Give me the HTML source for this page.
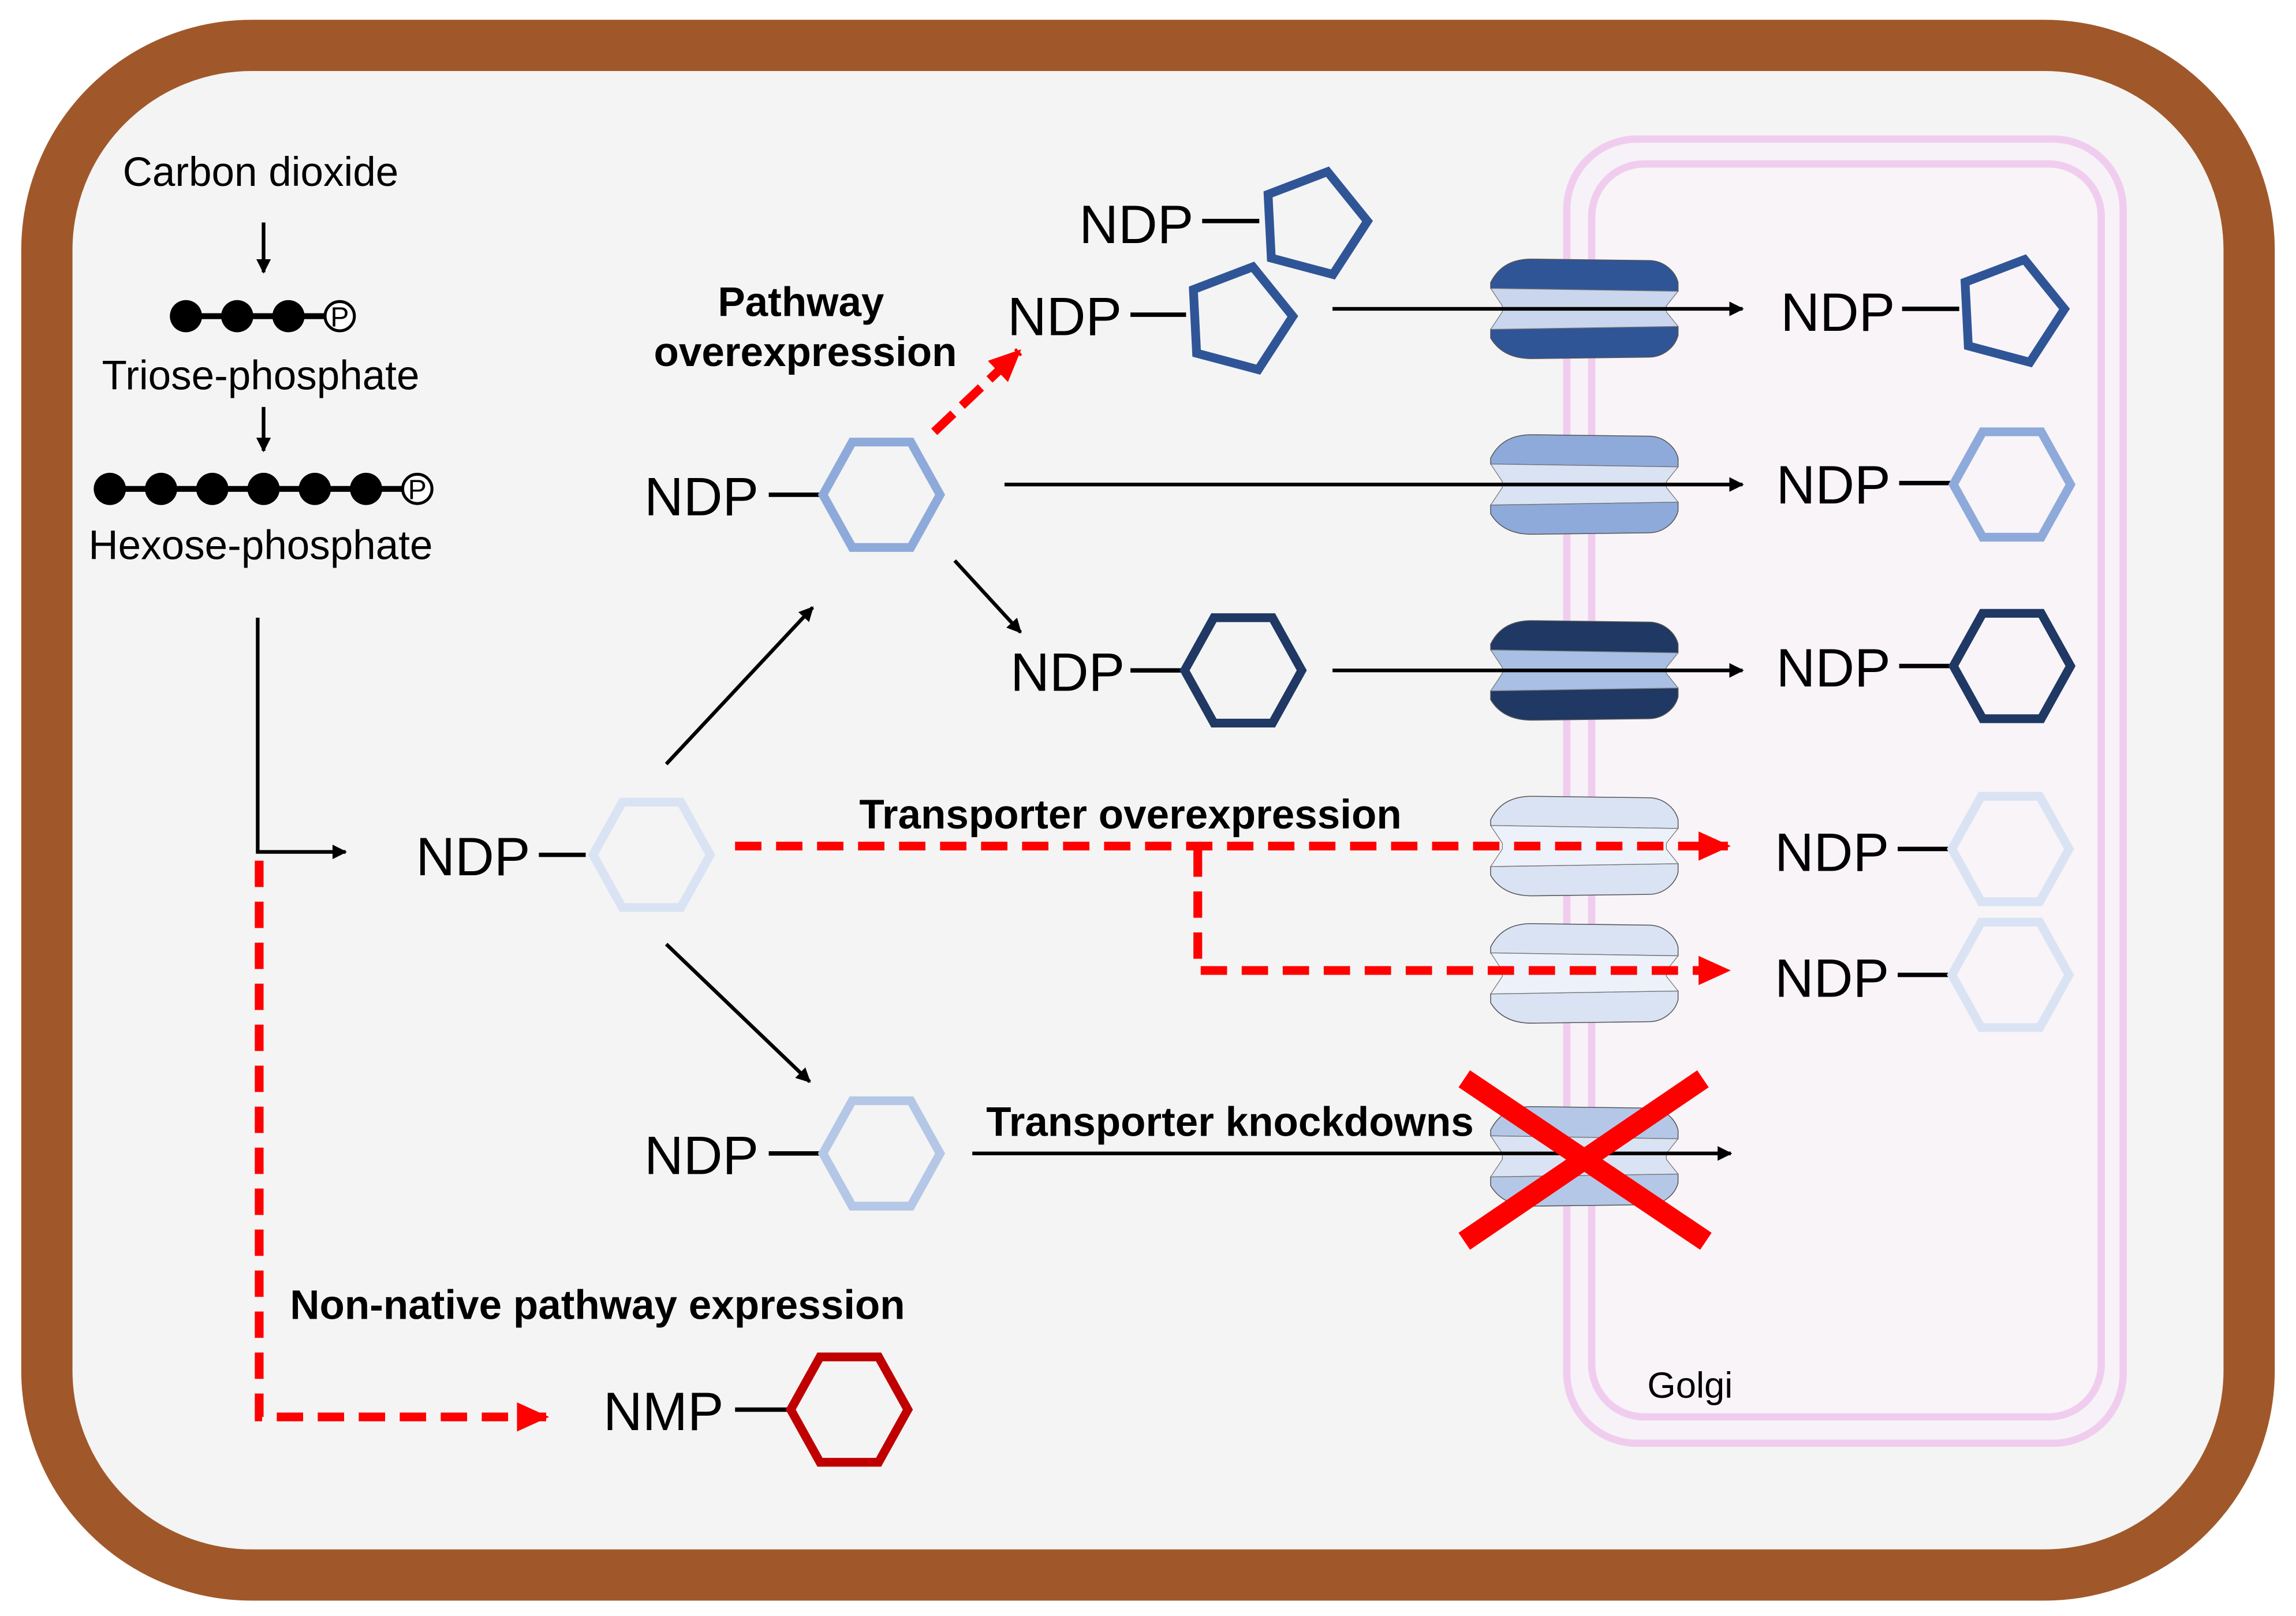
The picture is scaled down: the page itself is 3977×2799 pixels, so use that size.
<!DOCTYPE html>
<html><head><meta charset="utf-8"><style>
html,body{margin:0;padding:0;background:#fff;}
svg{display:block;}
text{font-family:"Liberation Sans",Arial,sans-serif;}
</style></head><body>
<svg width="3977" height="2799" viewBox="0 0 1568 1104" preserveAspectRatio="none" xmlns="http://www.w3.org/2000/svg">
<defs>
<path id="hex" d="M-40,0 L-20,-36 L20,-36 L40,0 L20,36 L-20,36Z"/>
<path id="pent" d="M9.6,-35.7 L36.9,-1.9 L13.3,34.5 L-28.8,23.3 L-31,-20.2Z"/>
<marker id="ab" markerWidth="10" markerHeight="10" refX="9" refY="5" orient="auto" markerUnits="userSpaceOnUse"><path d="M0,0 L10,5 L0,10Z" fill="#000"/></marker>
<marker id="ar" markerWidth="22" markerHeight="20" refX="20" refY="10" orient="auto" markerUnits="userSpaceOnUse"><path d="M0,0 L22,10 L0,20Z" fill="#f00"/></marker>
<g id="tr">
<path d="M-64,-18 C-58,-30 -48,-34 -36,-34 L44,-33 C54,-33 62,-26 64,-18 L64,-12 L-64,-14Z" fill="var(--c)" stroke="#555" stroke-width="0.6"/>
<path d="M-64,14 L64,12 L64,18 C62,26 54,33 44,33 L-36,34 C-48,34 -58,30 -64,20Z" fill="var(--c)" stroke="#555" stroke-width="0.6"/>
<path d="M-64,-14 L64,-12 L56,-2 L56,2 L64,12 L-64,14 L-56,2 L-56,-2Z" fill="var(--m)" stroke="#777" stroke-width="0.5"/>
</g>
</defs>
<rect x="0" y="0" width="1568" height="1104" fill="#fff"/>
<rect x="32" y="31" width="1504" height="1045" rx="140" fill="#f4f4f4" stroke="#a0582a" stroke-width="35"/>
<!-- Golgi -->
<rect x="1070" y="95" width="380" height="891" rx="48" fill="#f7f2f7" stroke="#f0cdef" stroke-width="5"/>
<rect x="1087" y="112" width="348" height="856" rx="36" fill="#f8f4f8" stroke="#f0cdef" stroke-width="5"/>
<text x="1125" y="955" font-size="25">Golgi</text>

<!-- left pathway -->
<text x="178" y="127" font-size="28" text-anchor="middle">Carbon dioxide</text>
<line x1="180" y1="152" x2="180" y2="186" stroke="#000" stroke-width="2.5" marker-end="url(#ab)"/>
<g fill="#000">
<line x1="127" y1="216" x2="225" y2="216" stroke="#000" stroke-width="4"/>
<circle cx="127" cy="216" r="11"/><circle cx="162" cy="216" r="11"/><circle cx="197" cy="216" r="11"/>
<circle cx="232" cy="216" r="10" fill="#fff" stroke="#000" stroke-width="2"/>
<text x="232" y="223" font-size="19" text-anchor="middle">P</text>
</g>
<text x="178" y="266" font-size="28" text-anchor="middle">Triose-phosphate</text>
<line x1="180" y1="278" x2="180" y2="308" stroke="#000" stroke-width="2.5" marker-end="url(#ab)"/>
<g fill="#000">
<line x1="75" y1="334" x2="278" y2="334" stroke="#000" stroke-width="4"/>
<circle cx="75" cy="334" r="11"/><circle cx="110" cy="334" r="11"/><circle cx="145" cy="334" r="11"/>
<circle cx="180" cy="334" r="11"/><circle cx="215" cy="334" r="11"/><circle cx="250" cy="334" r="11"/>
<circle cx="285" cy="334" r="10" fill="#fff" stroke="#000" stroke-width="2"/>
<text x="285" y="341" font-size="19" text-anchor="middle">P</text>
</g>
<text x="178" y="382" font-size="28" text-anchor="middle">Hexose-phosphate</text>

<polyline points="176,422 176,582 236,582" fill="none" stroke="#000" stroke-width="2.5" marker-end="url(#ab)"/>
<polyline points="177,588 177,968 373,968" fill="none" stroke="#f00" stroke-width="6" stroke-dasharray="18,10" marker-end="url(#ar)"/>

<!-- central NDP -->
<text x="284" y="598" font-size="37">NDP</text>
<line x1="368" y1="584" x2="400" y2="584" stroke="#000" stroke-width="3"/>
<use href="#hex" transform="translate(445,584)" fill="none" stroke="#dae3f3" stroke-width="6"/>
<line x1="455" y1="522" x2="555" y2="415" stroke="#000" stroke-width="2.5" marker-end="url(#ab)"/>
<line x1="455" y1="645" x2="553" y2="739" stroke="#000" stroke-width="2.5" marker-end="url(#ab)"/>

<!-- upper branch -->
<text x="440" y="352" font-size="37">NDP</text>
<line x1="525" y1="338" x2="561" y2="338" stroke="#000" stroke-width="3"/>
<use href="#hex" transform="translate(602,338)" fill="none" stroke="#8eaadb" stroke-width="6"/>
<text x="547" y="216" font-size="28" font-weight="bold" text-anchor="middle">Pathway</text>
<text x="550" y="250" font-size="28" font-weight="bold" text-anchor="middle">overexpression</text>
<line x1="638" y1="295" x2="696" y2="240" stroke="#f00" stroke-width="6" stroke-dasharray="18,8" marker-end="url(#ar)"/>
<line x1="652" y1="383" x2="697" y2="432" stroke="#000" stroke-width="2.5" marker-end="url(#ab)"/>

<text x="737" y="166" font-size="37">NDP</text>
<line x1="821" y1="151" x2="860" y2="151" stroke="#000" stroke-width="3"/>
<use href="#pent" transform="translate(897,153)" fill="none" stroke="#2f5597" stroke-width="6"/>
<text x="688" y="229" font-size="37">NDP</text>
<line x1="772" y1="215" x2="810" y2="215" stroke="#000" stroke-width="3"/>
<use href="#pent" transform="translate(846,218)" fill="none" stroke="#2f5597" stroke-width="6"/>

<text x="690" y="472" font-size="37">NDP</text>
<line x1="772" y1="458" x2="808" y2="458" stroke="#000" stroke-width="3"/>
<use href="#hex" transform="translate(849,458)" fill="none" stroke="#1f3864" stroke-width="6"/>

<!-- lower branch -->
<text x="440" y="802" font-size="37">NDP</text>
<line x1="525" y1="788" x2="561" y2="788" stroke="#000" stroke-width="3"/>
<use href="#hex" transform="translate(602,788)" fill="none" stroke="#b4c7e7" stroke-width="6"/>

<!-- NMP -->
<text x="198" y="901" font-size="28" font-weight="bold">Non-native pathway expression</text>
<text x="412" y="977" font-size="37">NMP</text>
<line x1="502" y1="963" x2="540" y2="963" stroke="#000" stroke-width="3"/>
<use href="#hex" transform="translate(580,963)" fill="none" stroke="#c00000" stroke-width="6"/>

<!-- transporters -->
<use href="#tr" transform="translate(1082,211)" style="--c:#2f5597;--m:#c9d6ee"/>
<use href="#tr" transform="translate(1082,331)" style="--c:#8eaadb;--m:#dae3f3"/>
<use href="#tr" transform="translate(1082,458)" style="--c:#1f3864;--m:#a9bfe3"/>
<use href="#tr" transform="translate(1082,578)" style="--c:#dae3f3;--m:#edf1f9"/>
<use href="#tr" transform="translate(1082,665)" style="--c:#dae3f3;--m:#edf1f9"/>
<use href="#tr" transform="translate(1082,790)" style="--c:#b4c7e7;--m:#dae3f3"/>

<!-- arrows through transporters -->
<line x1="910" y1="211" x2="1190" y2="211" stroke="#000" stroke-width="2.5" marker-end="url(#ab)"/>
<line x1="686" y1="331" x2="1190" y2="331" stroke="#000" stroke-width="2.5" marker-end="url(#ab)"/>
<line x1="910" y1="458" x2="1190" y2="458" stroke="#000" stroke-width="2.5" marker-end="url(#ab)"/>
<text x="772" y="566" font-size="28" font-weight="bold" text-anchor="middle">Transporter overexpression</text>
<line x1="502" y1="578" x2="1180" y2="578" stroke="#f00" stroke-width="6" stroke-dasharray="18,10" marker-end="url(#ar)"/>
<polyline points="818,581 818,663 1180,663" fill="none" stroke="#f00" stroke-width="6" stroke-dasharray="18,10" marker-end="url(#ar)"/>
<text x="840" y="776" font-size="28" font-weight="bold" text-anchor="middle">Transporter knockdowns</text>
<line x1="664" y1="788" x2="1182" y2="788" stroke="#000" stroke-width="2.5" marker-end="url(#ab)"/>
<line x1="1000" y1="737" x2="1165" y2="848" stroke="#f00" stroke-width="14"/>
<line x1="1163" y1="737" x2="1000" y2="848" stroke="#f00" stroke-width="14"/>

<!-- right products -->
<text x="1216" y="226" font-size="37">NDP</text>
<line x1="1299" y1="211" x2="1338" y2="211" stroke="#000" stroke-width="3"/>
<use href="#pent" transform="translate(1373,213)" fill="none" stroke="#2f5597" stroke-width="6"/>
<text x="1213" y="344" font-size="37">NDP</text>
<line x1="1297" y1="330" x2="1333" y2="330" stroke="#000" stroke-width="3"/>
<use href="#hex" transform="translate(1374,331)" fill="none" stroke="#8eaadb" stroke-width="6"/>
<text x="1213" y="469" font-size="37">NDP</text>
<line x1="1297" y1="455" x2="1333" y2="455" stroke="#000" stroke-width="3"/>
<use href="#hex" transform="translate(1374,455)" fill="none" stroke="#1f3864" stroke-width="6"/>
<text x="1212" y="595" font-size="37">NDP</text>
<line x1="1296" y1="580" x2="1332" y2="580" stroke="#000" stroke-width="3"/>
<use href="#hex" transform="translate(1373,580)" fill="none" stroke="#dae3f3" stroke-width="6"/>
<text x="1212" y="681" font-size="37">NDP</text>
<line x1="1296" y1="666" x2="1332" y2="666" stroke="#000" stroke-width="3"/>
<use href="#hex" transform="translate(1373,666)" fill="none" stroke="#dae3f3" stroke-width="6"/>
</svg>
</body></html>
